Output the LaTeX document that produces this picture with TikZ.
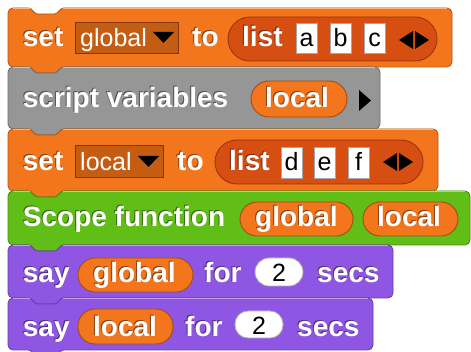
\documentclass[tikz,border=0pt]{standalone}
\usepackage{fontspec}
\newfontfamily\snapfont{Liberation Sans}
\definecolor{varorange}{RGB}{243,118,29}
\definecolor{listorange}{RGB}{214,78,18}
\definecolor{ddorange}{RGB}{196,92,18}
\definecolor{ddedge}{RGB}{130,55,8}
\definecolor{othergray}{RGB}{150,150,150}
\definecolor{opgreen}{RGB}{96,190,22}
\definecolor{lookpurple}{RGB}{143,86,227}
\newcommand\lblfont{\snapfont\bfseries\fontsize{28}{33}\selectfont}
\newcommand\inpfont{\snapfont\fontsize{25}{30}\selectfont}
\newcommand\numfont{\snapfont\fontsize{25}{30}\selectfont}
\tikzset{
  lbl/.style={text=white, font=\lblfont, anchor=base west, inner sep=0pt},
  lblsh/.style={text=black, opacity=0.45, font=\lblfont, anchor=base west, inner sep=0pt},
  inpw/.style={text=white, font=\inpfont, anchor=base west, inner sep=0pt},
  inpb/.style={text=black, font=\inpfont, anchor=base, inner sep=0pt},
  numb/.style={text=black, font=\numfont, anchor=base, inner sep=0pt},
  slotbox/.style={fill=white, draw=black!35, line width=0.8pt},
  ddbox/.style={fill=ddorange, draw=ddedge, line width=0.9pt},
  varpill/.style={fill=varorange, draw=varorange!65!black, line width=0.9pt},
  listpill/.style={fill=listorange, draw=listorange!70!black, line width=0.9pt},
  numoval/.style={fill=white, draw=black!30, line width=0.8pt},
  arrowtri/.style={fill=black},
}
% label with shadow: name, x, baseline y, text
\newcommand\slabel[4]{%
  \node[lblsh] (#1s) at (#2-1,#3-1) {#4};
  \node[lbl] (#1) at (#2,#3) {#4};}
% command block: colour, top, bottom, right
\newcommand\cmdblock[4]{%
  \filldraw[fill=#1, draw=#1!72!black, line width=0.8pt, rounded corners=5pt]
    (8,{(#2+#3)/2}) -- (8,#2) [rounded corners=1.5pt] -- (30,#2) -- (36,#2+6) -- (56,#2+6) -- (62,#2)
    [rounded corners=5pt] -- (#4,#2) -- (#4,#3) [rounded corners=1.5pt] -- (62,#3) -- (56,#3+6)
    -- (36,#3+6) -- (30,#3) [rounded corners=5pt] -- (8,#3) -- cycle;
  \draw[#1!55!white, line width=0.8pt] (13,#2+0.9) -- (29.5,#2+0.9);
  \draw[#1!55!white, line width=0.8pt] (62.5,#2+0.9) -- (#4-5,#2+0.9);}
\begin{document}
\begin{tikzpicture}[x=1pt,y=-1pt]
\useasboundingbox (0,0) rectangle (471,352);
\fill[white] (0,0) rectangle (471,352);

% ---------- block 1: set global to list a b c
\cmdblock{varorange}{8}{67}{452}
\slabel{set1}{22.7}{47}{set}
\draw[ddbox] (75,22) rectangle (178,53);
\node[inpw] (dd1) at (80,47) {global};
\fill[arrowtri] (153,32) -- (174,32) -- (163.5,43) -- cycle;
\slabel{to1}{192}{47}{to}
\draw[listpill, rounded corners=22pt] (228,17) rectangle (437,61);
\slabel{list1}{242}{47}{list}
\draw[slotbox] (296,23) rectangle (317,53);
\node[inpb] (sa) at (306.5,47) {a};
\draw[slotbox] (330,23) rectangle (351,53);
\node[inpb] (sb) at (340.5,47) {b};
\draw[slotbox] (364,23) rectangle (385,53);
\node[inpb] (sc) at (374.5,47) {c};
\fill[arrowtri] (413,31) -- (413,49) -- (399,40) -- cycle;
\fill[arrowtri] (415,31) -- (415,49) -- (429,40) -- cycle;

% ---------- block 2: script variables (local)
\cmdblock{othergray}{67}{129}{380}
\slabel{sv}{22.7}{108}{script variables}
\draw[varpill, rounded corners=18pt] (251,81) rectangle (347,117);
\slabel{loc2}{265}{108}{local}
\fill[arrowtri] (359,90) -- (359,111) -- (371,100.5) -- cycle;

% ---------- block 3: set local to list d e f
\cmdblock{varorange}{129}{191}{438}
\slabel{set3}{22.7}{171}{set}
\draw[ddbox] (75,145) rectangle (163,177);
\node[inpw] (dd3) at (80,171) {local};
\fill[arrowtri] (138,156) -- (159,156) -- (148.5,167) -- cycle;
\slabel{to3}{177}{171}{to}
\draw[listpill, rounded corners=22pt] (215,140) rectangle (423,184);
\slabel{list3}{229}{171}{list}
\draw[slotbox] (281,147) rectangle (302,178);
\node[inpb] (sd) at (291.5,171) {d};
\draw[slotbox] (314,147) rectangle (335,178);
\node[inpb] (se) at (324.5,171) {e};
\draw[slotbox] (348,147) rectangle (369,178);
\node[inpb] (sf) at (358.5,171) {f};
\fill[arrowtri] (397,153) -- (397,171) -- (383,162) -- cycle;
\fill[arrowtri] (399,153) -- (399,171) -- (413,162) -- cycle;

% ---------- block 4: Scope function (global) (local)
\cmdblock{opgreen}{191}{245}{470}
\slabel{scope}{22.7}{227}{Scope function}
\draw[varpill, rounded corners=17pt] (240,202) rectangle (353,236);
\slabel{glob4}{255}{227}{global}
\draw[varpill, rounded corners=17pt] (363,202) rectangle (458,236);
\slabel{loc4}{377}{227}{local}

% ---------- block 5: say (global) for (2) secs
\cmdblock{lookpurple}{245}{298}{393}
\slabel{say5}{22.7}{283}{say}
\draw[varpill, rounded corners=17pt] (78,258) rectangle (193,292);
\slabel{glob5}{93}{283}{global}
\slabel{for5}{204}{283}{for}
\draw[numoval, rounded corners=14pt] (255,258) rectangle (303,286);
\node[numb] (n5) at (279,282) {2};
\slabel{secs5}{317}{283}{secs}

% ---------- block 6: say (local) for (2) secs
\cmdblock{lookpurple}{298}{350}{373}
\slabel{say6}{22.7}{337}{say}
\draw[varpill, rounded corners=17pt] (78,309) rectangle (173,344);
\slabel{loc6}{93}{337}{local}
\slabel{for6}{185}{337}{for}
\draw[numoval, rounded corners=13pt] (235,311) rectangle (283,338);
\node[numb] (n6) at (259,335) {2};
\slabel{secs6}{297}{337}{secs}
\end{tikzpicture}
\end{document}
